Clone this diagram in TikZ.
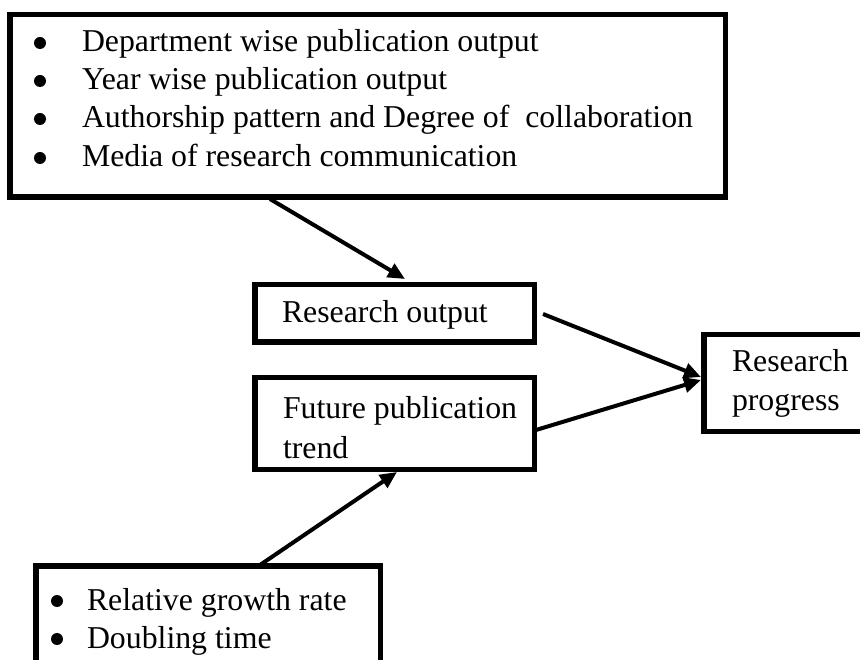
\documentclass[tikz,border=0pt]{standalone}
\usepackage{fontspec}
\setmainfont{Liberation Serif}
\usetikzlibrary{arrows.meta}
\begin{document}
\begin{tikzpicture}[x=1pt,y=-1pt,
  box/.style={draw,line width=5.5pt,inner sep=0pt,outer sep=0pt},
  txt/.style={anchor=base west,inner sep=0pt,outer sep=0pt,font=\fontsize{31.8pt}{38pt}\selectfont},
  dot/.style={fill,circle,inner sep=0pt,minimum size=12pt},
  arr/.style={line width=4pt,-{Triangle[length=17pt,width=15pt]}}]
\clip (0,0) rectangle (860,660);
\fill[white] (0,0) rectangle (860,660);

% boxes
\node[box,minimum width=715.5pt,minimum height=182.5pt] (src) at (367.5,106) {};
\node[box,minimum width=279.5pt,minimum height=57.5pt] (out) at (394.5,313.5) {};
\node[box,minimum width=279.5pt,minimum height=91.5pt] (trend) at (394.5,423.5) {};
\node[box,minimum width=159.5pt,minimum height=96.5pt] (prog) at (783.5,383) {};
\node[box,minimum width=344.5pt,minimum height=131pt] (ind) at (208,631.5) {};

% indicator list, top box
\node[dot] (b1) at (40,43) {};
\node[dot] (b2) at (40,81) {};
\node[dot] (b3) at (40,119) {};
\node[dot] (b4) at (40,158) {};
\node[txt] (t1) at (82,52) {Department wise publication output};
\node[txt] (t2) at (82,90) {Year wise publication output};
\node[txt] (t3) at (82,128) {Authorship pattern and Degree of \ collaboration};
\node[txt] (t4) at (82,167) {Media of research communication};

% middle and right labels
\node[txt] (o1) at (282,323) {Research output};
\node[txt] (f1) at (283,418) {Future publication};
\node[txt] (f2) at (283,458) {trend};
\node[txt] (p1) at (732,372) {Research};
\node[txt] (p2) at (732,410) {progress};

% indicator list, bottom box
\node[dot] (c1) at (57,601) {};
\node[dot] (c2) at (57,639) {};
\node[txt] (r1) at (87,610) {Relative growth rate};
\node[txt] (r2) at (87,648) {Doubling time};

% connector end points
\coordinate (a1s) at (270,199);
\coordinate (a1e) at (405,279);
\coordinate (a2s) at (543,314);
\coordinate (a2e) at (701,377);
\coordinate (a3s) at (536,430);
\coordinate (a3e) at (701,380);
\coordinate (a4s) at (260,565);
\coordinate (a4e) at (397,472);

\draw[arr] (a1s) -- (a1e);
\draw[arr] (a2s) -- (a2e);
\draw[arr] (a3s) -- (a3e);
\draw[arr] (a4s) -- (a4e);
\end{tikzpicture}
\end{document}
